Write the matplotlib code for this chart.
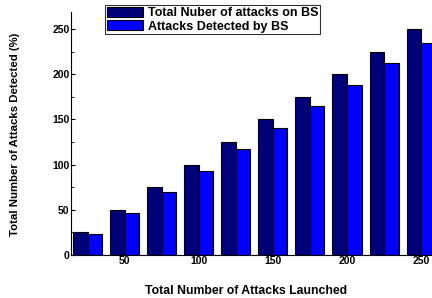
import numpy as np
import matplotlib
matplotlib.use("Agg")
import matplotlib.pyplot as plt
from matplotlib.ticker import MultipleLocator

launched = [25, 50, 75, 100, 125, 150, 175, 200, 225, 250]
total_attacks = [25, 50, 75, 100, 125, 150, 175, 200, 225, 250]
detected = [23, 47, 70, 93, 117, 141, 165, 188, 212, 235]
xtick_vals = [50, 100, 150, 200, 250]

plt.rcParams['font.family'] = ['Liberation Sans', 'DejaVu Sans']
plt.rcParams['font.weight'] = 'bold'

fig = plt.figure(figsize=(4.32, 2.98), dpi=100)
ax = fig.add_axes([0.164, 0.144, 0.836, 0.816])

w = 9.8
x = np.array(launched)
ax.bar(x - w / 2, total_attacks, w, color='#000078', edgecolor='black', linewidth=0.8,
       label='Total Nuber of attacks on BS')
ax.bar(x + w / 2, detected, w, color='#0000ff', edgecolor='black', linewidth=0.8,
       label='Attacks Detected by BS')

ax.set_xlim(13.5, 257.4)
ax.set_ylim(0, 269)
ax.set_xticks(xtick_vals)
ax.yaxis.set_major_locator(MultipleLocator(50))
ax.yaxis.set_minor_locator(MultipleLocator(25))
ax.tick_params(axis='both', direction='in', labelsize=7.5, pad=1, length=3)
ax.tick_params(axis='x', length=0)
ax.tick_params(axis='y', which='minor', direction='in', length=2)
for lab in ax.get_xticklabels() + ax.get_yticklabels():
    lab.set_fontweight('bold')

ax.spines['top'].set_visible(False)
ax.spines['right'].set_visible(False)

fig.text(0.035, 0.55, 'Total Number of Attacks Detected (%)', rotation=90,
         ha='center', va='center', fontsize=8.2, fontweight='bold')
fig.text(0.57, 0.025, 'Total Number of Attacks Launched', ha='center', va='center',
         fontsize=8.8, fontweight='bold')

leg = fig.legend(loc='upper left', bbox_to_anchor=(0.243, 0.983), fontsize=9,
                 frameon=True, fancybox=False, edgecolor='black', borderpad=0.15,
                 labelspacing=0.05, handlelength=2.9, handleheight=0.9,
                 handletextpad=0.4, borderaxespad=0)
leg.get_frame().set_linewidth(0.8)
for t in leg.get_texts():
    t.set_fontweight('bold')

fig.savefig('out.png', dpi=100)
